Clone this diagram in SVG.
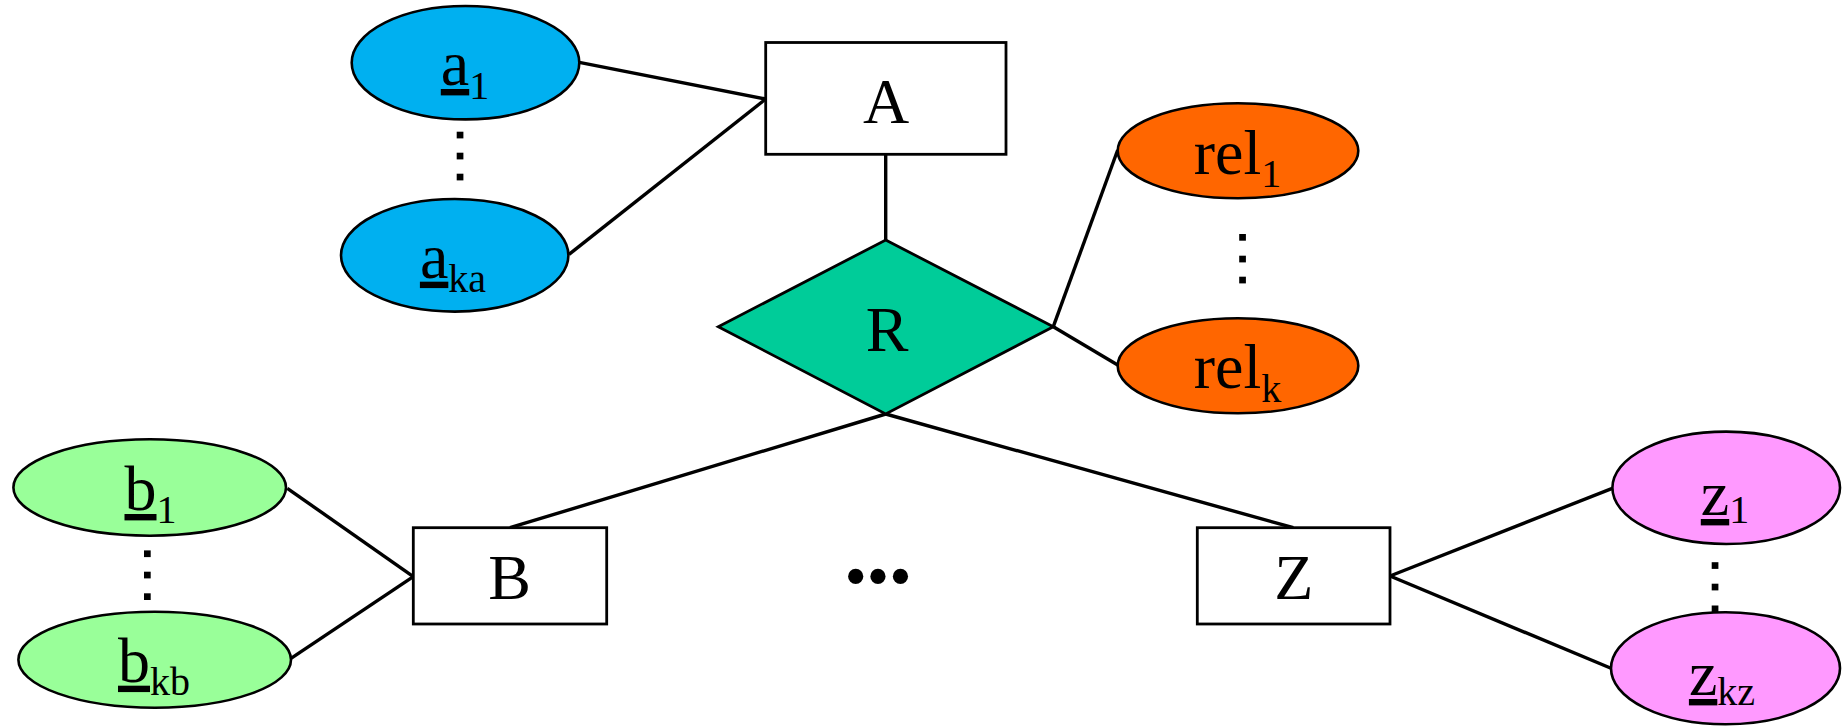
<svg xmlns="http://www.w3.org/2000/svg" width="1848" height="726" viewBox="0 0 1848 726">
<style>
.lbl{font-family:"Liberation Serif","Times New Roman",serif;font-size:64px;fill:#000;text-anchor:middle}
.sub{font-size:40px}
.ul{text-decoration:underline}
.ent{fill:#fff;stroke:#000;stroke-width:2.8}
.att{stroke:#000;stroke-width:2.6}
.conn line{stroke:#000;stroke-width:3.4;stroke-linecap:butt}
.dot{fill:#000}
</style>
<rect width="1848" height="726" fill="#fff"/>
<g id="connectors" class="conn">
<line x1="579.3" y1="62.3" x2="765.7" y2="99"/>
<line x1="569" y1="254.3" x2="765.7" y2="99"/>
<line x1="885.7" y1="154.3" x2="885.7" y2="240"/>
<line x1="1053.3" y1="326.7" x2="1117.7" y2="150"/>
<line x1="1053.3" y1="326.7" x2="1117.7" y2="365"/>
<line x1="885.7" y1="414" x2="510" y2="527.7"/>
<line x1="885.7" y1="414" x2="1293.3" y2="527.7"/>
<line x1="287.3" y1="488.3" x2="413.3" y2="576.7"/>
<line x1="291" y1="658.3" x2="413.3" y2="576.7"/>
<line x1="1390" y1="576" x2="1612.3" y2="488.3"/>
<line x1="1390" y1="576" x2="1611" y2="668.3"/>
</g>
<g id="node-A">
<rect class="ent" x="765.7" y="42.5" width="240.3" height="111.8"/>
<text class="lbl" x="886" y="122.7">A</text>
</g>
<g id="node-R">
<polygon points="885.7,240 1053.3,326.7 885.7,414 718.3,326.7" fill="#00CC99" stroke="#000" stroke-width="2.8"/>
<text class="lbl" x="887" y="350.7">R</text>
</g>
<g id="node-B">
<rect class="ent" x="413.3" y="527.7" width="193.4" height="96.3"/>
<text class="lbl" x="509.5" y="599">B</text>
</g>
<g id="node-Z">
<rect class="ent" x="1197.3" y="527.7" width="192.7" height="96.3"/>
<text class="lbl" x="1293.7" y="599">Z</text>
</g>
<g id="node-a1">
<ellipse class="att" cx="465.5" cy="62.7" rx="113.8" ry="56.7" fill="#00B0F0"/>
<text class="lbl" x="465" y="85"><tspan class="ul">a</tspan><tspan class="sub" dy="14">1</tspan></text>
</g>
<g id="node-aka">
<ellipse class="att" cx="454.7" cy="255.3" rx="113.7" ry="56.3" fill="#00B0F0"/>
<text class="lbl" x="453" y="277.7"><tspan class="ul">a</tspan><tspan class="sub" dy="14">ka</tspan></text>
</g>
<g id="node-rel1">
<ellipse class="att" cx="1238" cy="150.8" rx="120.3" ry="47.5" fill="#FF6600"/>
<text class="lbl" x="1237.5" y="174">rel<tspan class="sub" dy="12.7">1</tspan></text>
</g>
<g id="node-relk">
<ellipse class="att" cx="1238" cy="365.8" rx="120.3" ry="47.5" fill="#FF6600"/>
<text class="lbl" x="1237.5" y="388.3">rel<tspan class="sub" dy="13.4">k</tspan></text>
</g>
<g id="node-b1">
<ellipse class="att" cx="149.7" cy="487.5" rx="136.3" ry="48.2" fill="#99FF99"/>
<text class="lbl" x="150.5" y="510"><tspan class="ul">b</tspan><tspan class="sub" dy="13.3">1</tspan></text>
</g>
<g id="node-bkb">
<ellipse class="att" cx="154.7" cy="659.7" rx="136.3" ry="48" fill="#99FF99"/>
<text class="lbl" x="154" y="681.7"><tspan class="ul">b</tspan><tspan class="sub" dy="13.3">kb</tspan></text>
</g>
<g id="node-z1">
<ellipse class="att" cx="1726.2" cy="487.8" rx="113.8" ry="56.2" fill="#FF99FF"/>
<text class="lbl" x="1725" y="515"><tspan class="ul">z</tspan><tspan class="sub" dy="7.7">1</tspan></text>
</g>
<g id="node-zkz">
<ellipse class="att" cx="1725.5" cy="668.3" rx="114.5" ry="56" fill="#FF99FF"/>
<text class="lbl" x="1722" y="695"><tspan class="ul">z</tspan><tspan class="sub" dy="10">kz</tspan></text>
</g>
<g id="ellipsis-marks">
<rect class="dot" x="456.7" y="131.7" width="6.7" height="6.7"/>
<rect class="dot" x="456.7" y="152.7" width="6.7" height="6.7"/>
<rect class="dot" x="456.7" y="173.7" width="6.7" height="6.7"/>
<rect class="dot" x="1239.2" y="234" width="6.7" height="6.7"/>
<rect class="dot" x="1239.2" y="255.7" width="6.7" height="6.7"/>
<rect class="dot" x="1239.2" y="276.7" width="6.7" height="6.7"/>
<rect class="dot" x="144" y="550.4" width="6.7" height="6.7"/>
<rect class="dot" x="144" y="571.7" width="6.7" height="6.7"/>
<rect class="dot" x="144" y="593.3" width="6.7" height="6.7"/>
<rect class="dot" x="1711.7" y="562.2" width="6.7" height="6.7"/>
<rect class="dot" x="1711.7" y="583.7" width="6.7" height="6.7"/>
<rect class="dot" x="1711.7" y="605.5" width="6.7" height="6.7"/>
<text class="lbl" x="878" y="598">•••</text>
</g>
</svg>
